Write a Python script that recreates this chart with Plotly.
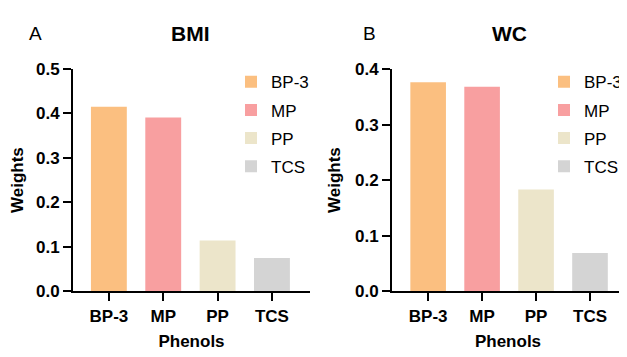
import plotly.graph_objects as go

categories = ["BP-3", "MP", "PP", "TCS"]
bmi_weights = [0.415, 0.391, 0.114, 0.075]
wc_weights = [0.376, 0.368, 0.183, 0.069]
colors = ["#FBBF80", "#F89FA0", "#ECE5CA", "#D4D4D4"]
panel_titles = ["BMI", "WC"]
panel_letters = ["A", "B"]
bmi_ticks = [0.0, 0.1, 0.2, 0.3, 0.4, 0.5]
wc_ticks = [0.0, 0.1, 0.2, 0.3, 0.4]

FONT = "Arial, Liberation Sans, sans-serif"
OFF = 8  # default page body margin
W, H = 627 - OFF, 357 - OFF

fig = go.Figure()

for panel, (vals, xa, ya, leg) in enumerate([
    (bmi_weights, "x", "y", "legend"),
    (wc_weights, "x2", "y2", "legend2"),
]):
    for i, (cat, v, c) in enumerate(zip(categories, vals, colors)):
        fig.add_trace(go.Bar(
            x=[cat], y=[v], width=0.66,
            marker=dict(color=c, line=dict(width=0)),
            name=cat, xaxis=xa, yaxis=ya, legend=leg,
            legendgroup=f"{panel}-{cat}",
        ))

def px_x(p):
    return (p - OFF) / W

def px_y(p):
    return 1 - (p - OFF) / H

y_dom = [px_y(298), px_y(63)]

axis_common = dict(
    showline=True, linecolor="black", linewidth=2,
    ticks="outside", ticklen=8, tickwidth=2, tickcolor="black",
    showgrid=False, zeroline=False,
    tickfont=dict(family=FONT, size=17, color="black", weight="bold"),
    title_font=dict(family=FONT, size=17, color="black", weight="bold"),
)

fig.update_layout(
    width=W, height=H,
    margin=dict(l=0, r=0, t=0, b=0),
    paper_bgcolor="white", plot_bgcolor="white",
    barmode="overlay",
    font=dict(family=FONT, color="black"),
    xaxis=dict(domain=[px_x(73), px_x(310)], range=[-0.66, 3.70], anchor="y",
               title=dict(text="Phenols", standoff=10), **axis_common),
    yaxis=dict(domain=y_dom, range=[0, 0.5], anchor="x", tickvals=bmi_ticks,
               tickformat=".1f",
               title=dict(text="Weights", standoff=10), **axis_common),
    xaxis2=dict(domain=[px_x(392), px_x(624)], range=[-0.67, 3.63], anchor="y2",
                title=dict(text="Phenols", standoff=10), **axis_common),
    yaxis2=dict(domain=y_dom, range=[0, 0.4], anchor="x2", tickvals=wc_ticks,
                tickformat=".1f",
                title=dict(text="Weights", standoff=10), **axis_common),
    legend=dict(x=px_x(231), y=px_y(58), xanchor="left", yanchor="top",
                font=dict(family=FONT, size=17, color="black"),
                tracegroupgap=3, bgcolor="rgba(0,0,0,0)"),
    legend2=dict(x=1, y=px_y(58), xanchor="right", yanchor="top",
                 font=dict(family=FONT, size=17, color="black"),
                 tracegroupgap=3, bgcolor="rgba(0,0,0,0)"),
)

annotations = []
for title, letter, cx, lx in zip(panel_titles, panel_letters, [190, 509], [35, 369]):
    annotations.append(dict(text=f"<b>{title}</b>", x=px_x(cx), y=px_y(25),
                            xref="paper", yref="paper", showarrow=False,
                            xanchor="center", yanchor="middle",
                            font=dict(family=FONT, size=21, color="black")))
    annotations.append(dict(text=letter, x=px_x(lx), y=px_y(25),
                            xref="paper", yref="paper", showarrow=False,
                            xanchor="center", yanchor="middle",
                            font=dict(family=FONT, size=19, color="black")))
fig.update_layout(annotations=annotations)

fig.write_html("out.html")
